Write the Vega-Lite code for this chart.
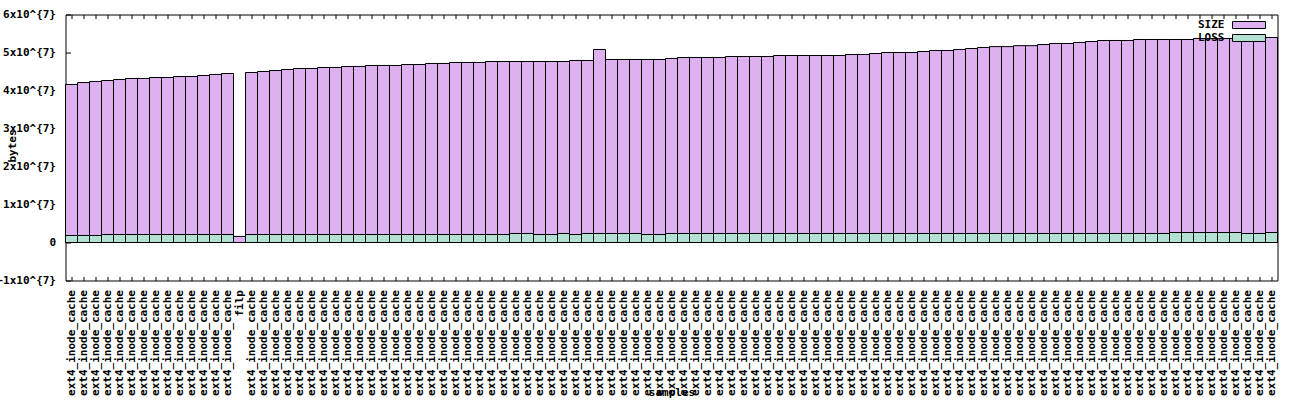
{
  "$schema": "https://vega.github.io/schema/vega-lite/v6.json",
  "autosize": {"type": "none"},
  "padding": {"left": 65.5, "top": 14.5, "right": 22, "bottom": 120},
  "width": 1212,
  "height": 266,
  "background": "white",
  "config": {
    "view": {"stroke": "black", "strokeWidth": 1},
    "font": "DejaVu Sans Mono"
  },
  "data": {"values": [
    {"k":"001|ext4_inode_cache","SIZE":41580000,"LOSS":1850000},
    {"k":"002|ext4_inode_cache","SIZE":42100000,"LOSS":1850000},
    {"k":"003|ext4_inode_cache","SIZE":42370000,"LOSS":1850000},
    {"k":"004|ext4_inode_cache","SIZE":42630000,"LOSS":2100000},
    {"k":"005|ext4_inode_cache","SIZE":42890000,"LOSS":2100000},
    {"k":"006|ext4_inode_cache","SIZE":43160000,"LOSS":2100000},
    {"k":"007|ext4_inode_cache","SIZE":43160000,"LOSS":2100000},
    {"k":"008|ext4_inode_cache","SIZE":43420000,"LOSS":2100000},
    {"k":"009|ext4_inode_cache","SIZE":43420000,"LOSS":2100000},
    {"k":"010|ext4_inode_cache","SIZE":43680000,"LOSS":2100000},
    {"k":"011|ext4_inode_cache","SIZE":43680000,"LOSS":2100000},
    {"k":"012|ext4_inode_cache","SIZE":43950000,"LOSS":2100000},
    {"k":"013|ext4_inode_cache","SIZE":44210000,"LOSS":2100000},
    {"k":"014|ext4_inode_cache","SIZE":44470000,"LOSS":2100000},
    {"k":"015|filp","SIZE":1600000,"LOSS":0},
    {"k":"016|ext4_inode_cache","SIZE":44740000,"LOSS":2100000},
    {"k":"017|ext4_inode_cache","SIZE":45000000,"LOSS":2100000},
    {"k":"018|ext4_inode_cache","SIZE":45260000,"LOSS":2100000},
    {"k":"019|ext4_inode_cache","SIZE":45530000,"LOSS":2100000},
    {"k":"020|ext4_inode_cache","SIZE":45790000,"LOSS":2100000},
    {"k":"021|ext4_inode_cache","SIZE":45790000,"LOSS":2100000},
    {"k":"022|ext4_inode_cache","SIZE":46050000,"LOSS":2100000},
    {"k":"023|ext4_inode_cache","SIZE":46050000,"LOSS":2100000},
    {"k":"024|ext4_inode_cache","SIZE":46320000,"LOSS":2100000},
    {"k":"025|ext4_inode_cache","SIZE":46320000,"LOSS":2100000},
    {"k":"026|ext4_inode_cache","SIZE":46580000,"LOSS":2100000},
    {"k":"027|ext4_inode_cache","SIZE":46580000,"LOSS":2100000},
    {"k":"028|ext4_inode_cache","SIZE":46580000,"LOSS":2100000},
    {"k":"029|ext4_inode_cache","SIZE":46840000,"LOSS":2100000},
    {"k":"030|ext4_inode_cache","SIZE":46840000,"LOSS":2100000},
    {"k":"031|ext4_inode_cache","SIZE":47110000,"LOSS":2100000},
    {"k":"032|ext4_inode_cache","SIZE":47110000,"LOSS":2100000},
    {"k":"033|ext4_inode_cache","SIZE":47370000,"LOSS":2100000},
    {"k":"034|ext4_inode_cache","SIZE":47370000,"LOSS":2100000},
    {"k":"035|ext4_inode_cache","SIZE":47370000,"LOSS":2100000},
    {"k":"036|ext4_inode_cache","SIZE":47630000,"LOSS":2100000},
    {"k":"037|ext4_inode_cache","SIZE":47630000,"LOSS":2100000},
    {"k":"038|ext4_inode_cache","SIZE":47630000,"LOSS":2370000},
    {"k":"039|ext4_inode_cache","SIZE":47630000,"LOSS":2370000},
    {"k":"040|ext4_inode_cache","SIZE":47630000,"LOSS":2100000},
    {"k":"041|ext4_inode_cache","SIZE":47630000,"LOSS":2100000},
    {"k":"042|ext4_inode_cache","SIZE":47630000,"LOSS":2370000},
    {"k":"043|ext4_inode_cache","SIZE":47900000,"LOSS":2100000},
    {"k":"044|ext4_inode_cache","SIZE":47900000,"LOSS":2370000},
    {"k":"045|ext4_inode_cache","SIZE":50790000,"LOSS":2370000},
    {"k":"046|ext4_inode_cache","SIZE":48160000,"LOSS":2370000},
    {"k":"047|ext4_inode_cache","SIZE":48160000,"LOSS":2370000},
    {"k":"048|ext4_inode_cache","SIZE":48160000,"LOSS":2370000},
    {"k":"049|ext4_inode_cache","SIZE":48160000,"LOSS":2100000},
    {"k":"050|ext4_inode_cache","SIZE":48160000,"LOSS":2100000},
    {"k":"051|ext4_inode_cache","SIZE":48420000,"LOSS":2370000},
    {"k":"052|ext4_inode_cache","SIZE":48680000,"LOSS":2370000},
    {"k":"053|ext4_inode_cache","SIZE":48680000,"LOSS":2370000},
    {"k":"054|ext4_inode_cache","SIZE":48680000,"LOSS":2370000},
    {"k":"055|ext4_inode_cache","SIZE":48680000,"LOSS":2370000},
    {"k":"056|ext4_inode_cache","SIZE":48950000,"LOSS":2370000},
    {"k":"057|ext4_inode_cache","SIZE":48950000,"LOSS":2370000},
    {"k":"058|ext4_inode_cache","SIZE":48950000,"LOSS":2370000},
    {"k":"059|ext4_inode_cache","SIZE":48950000,"LOSS":2370000},
    {"k":"060|ext4_inode_cache","SIZE":49210000,"LOSS":2370000},
    {"k":"061|ext4_inode_cache","SIZE":49210000,"LOSS":2370000},
    {"k":"062|ext4_inode_cache","SIZE":49210000,"LOSS":2370000},
    {"k":"063|ext4_inode_cache","SIZE":49210000,"LOSS":2370000},
    {"k":"064|ext4_inode_cache","SIZE":49210000,"LOSS":2370000},
    {"k":"065|ext4_inode_cache","SIZE":49210000,"LOSS":2370000},
    {"k":"066|ext4_inode_cache","SIZE":49470000,"LOSS":2370000},
    {"k":"067|ext4_inode_cache","SIZE":49470000,"LOSS":2370000},
    {"k":"068|ext4_inode_cache","SIZE":49740000,"LOSS":2370000},
    {"k":"069|ext4_inode_cache","SIZE":50000000,"LOSS":2370000},
    {"k":"070|ext4_inode_cache","SIZE":50000000,"LOSS":2370000},
    {"k":"071|ext4_inode_cache","SIZE":50000000,"LOSS":2370000},
    {"k":"072|ext4_inode_cache","SIZE":50260000,"LOSS":2370000},
    {"k":"073|ext4_inode_cache","SIZE":50530000,"LOSS":2370000},
    {"k":"074|ext4_inode_cache","SIZE":50530000,"LOSS":2370000},
    {"k":"075|ext4_inode_cache","SIZE":50790000,"LOSS":2370000},
    {"k":"076|ext4_inode_cache","SIZE":51050000,"LOSS":2370000},
    {"k":"077|ext4_inode_cache","SIZE":51320000,"LOSS":2370000},
    {"k":"078|ext4_inode_cache","SIZE":51550000,"LOSS":2370000},
    {"k":"079|ext4_inode_cache","SIZE":51550000,"LOSS":2370000},
    {"k":"080|ext4_inode_cache","SIZE":51800000,"LOSS":2370000},
    {"k":"081|ext4_inode_cache","SIZE":51800000,"LOSS":2370000},
    {"k":"082|ext4_inode_cache","SIZE":52100000,"LOSS":2370000},
    {"k":"083|ext4_inode_cache","SIZE":52370000,"LOSS":2370000},
    {"k":"084|ext4_inode_cache","SIZE":52370000,"LOSS":2370000},
    {"k":"085|ext4_inode_cache","SIZE":52630000,"LOSS":2370000},
    {"k":"086|ext4_inode_cache","SIZE":52890000,"LOSS":2370000},
    {"k":"087|ext4_inode_cache","SIZE":53160000,"LOSS":2370000},
    {"k":"088|ext4_inode_cache","SIZE":53160000,"LOSS":2370000},
    {"k":"089|ext4_inode_cache","SIZE":53160000,"LOSS":2370000},
    {"k":"090|ext4_inode_cache","SIZE":53420000,"LOSS":2370000},
    {"k":"091|ext4_inode_cache","SIZE":53420000,"LOSS":2370000},
    {"k":"092|ext4_inode_cache","SIZE":53420000,"LOSS":2370000},
    {"k":"093|ext4_inode_cache","SIZE":53420000,"LOSS":2630000},
    {"k":"094|ext4_inode_cache","SIZE":53420000,"LOSS":2630000},
    {"k":"095|ext4_inode_cache","SIZE":53680000,"LOSS":2630000},
    {"k":"096|ext4_inode_cache","SIZE":53680000,"LOSS":2630000},
    {"k":"097|ext4_inode_cache","SIZE":53680000,"LOSS":2630000},
    {"k":"098|ext4_inode_cache","SIZE":53680000,"LOSS":2630000},
    {"k":"099|ext4_inode_cache","SIZE":53680000,"LOSS":2370000},
    {"k":"100|ext4_inode_cache","SIZE":53680000,"LOSS":2370000},
    {"k":"101|ext4_inode_cache","SIZE":53950000,"LOSS":2630000}
  ]},
  "transform": [{"fold": ["SIZE", "LOSS"], "as": ["series", "value"]}],
  "resolve": {"axis": {"x": "independent"}},
  "encoding": {
    "y": {"field": "value", "type": "quantitative",
      "scale": {"domain": [-10000000, 60000000], "nice": false, "zero": false},
      "axis": {"title": "bytes", "values": [-10000000, 0, 10000000, 20000000, 30000000, 40000000, 50000000, 60000000],
        "labelExpr": "datum.value == 0 ? '0' : format(datum.value / 10000000, 'd') + 'x10^{7}'",
        "labelFont": "DejaVu Sans Mono", "labelFontWeight": "bold", "labelFontSize": 11, "labelColor": "black",
        "labelOverlap": false, "labelFlush": false, "labelBound": false, "tickSize": -5, "tickColor": "black", "labelPadding": 15, "domain": false, "grid": false,
        "titleFont": "DejaVu Sans Mono", "titleFontWeight": "bold", "titleFontSize": 11, "titleColor": "black",
        "titleAngle": 270, "titleX": -53, "titleY": 131, "titleAlign": "center", "titleBaseline": "middle"}},
    "color": {"field": "series", "type": "nominal",
      "scale": {"domain": ["SIZE", "LOSS"], "range": ["#dfb0f0", "#b3e2d5"]},
      "legend": {"orient": "none", "legendX": 1178, "legendY": 5, "padding": 0, "title": null, "direction": "vertical",
        "labelAlign": "right", "labelOffset": -30,
        "symbolType": "M-4.714,-1H4.714V1H-4.714Z", "symbolSize": 49,
        "symbolStrokeColor": "black", "symbolStrokeWidth": 1, "symbolOpacity": 1,
        "labelFont": "DejaVu Sans Mono", "labelFontWeight": "bold", "labelFontSize": 11, "labelColor": "black",
        "rowPadding": 1}}
  },
  "layer": [
    {
      "transform": [{"filter": "datum.series == 'SIZE'"}],
      "mark": {"type": "bar", "stroke": "black", "strokeWidth": 1, "opacity": 1},
      "encoding": {
        "x": {"field": "k", "type": "ordinal", "sort": null,
          "scale": {"paddingInner": 0, "paddingOuter": 0},
          "axis": {"orient": "bottom", "title": "samples", "labelAngle": -90,
            "labelExpr": "split(datum.label, '|')[1]", "labelOverlap": false,
            "labelFont": "DejaVu Sans Mono", "labelFontWeight": "bold", "labelFontSize": 11, "labelColor": "black",
            "tickSize": -4, "tickColor": "black", "labelPadding": 13, "domain": false,
            "titleFont": "DejaVu Sans Mono", "titleFontWeight": "bold", "titleFontSize": 11, "titleColor": "black",
            "titleY": 112, "titleBaseline": "middle"}}
      }
    },
    {
      "transform": [{"filter": "datum.series == 'LOSS'"}],
      "mark": {"type": "bar", "stroke": "black", "strokeWidth": 1, "opacity": 1},
      "encoding": {
        "x": {"field": "k", "type": "ordinal", "sort": null,
          "scale": {"paddingInner": 0, "paddingOuter": 0},
          "axis": {"orient": "top", "title": null, "labels": false, "tickSize": -4, "tickColor": "black", "domain": false}}
      }
    }
  ]
}
